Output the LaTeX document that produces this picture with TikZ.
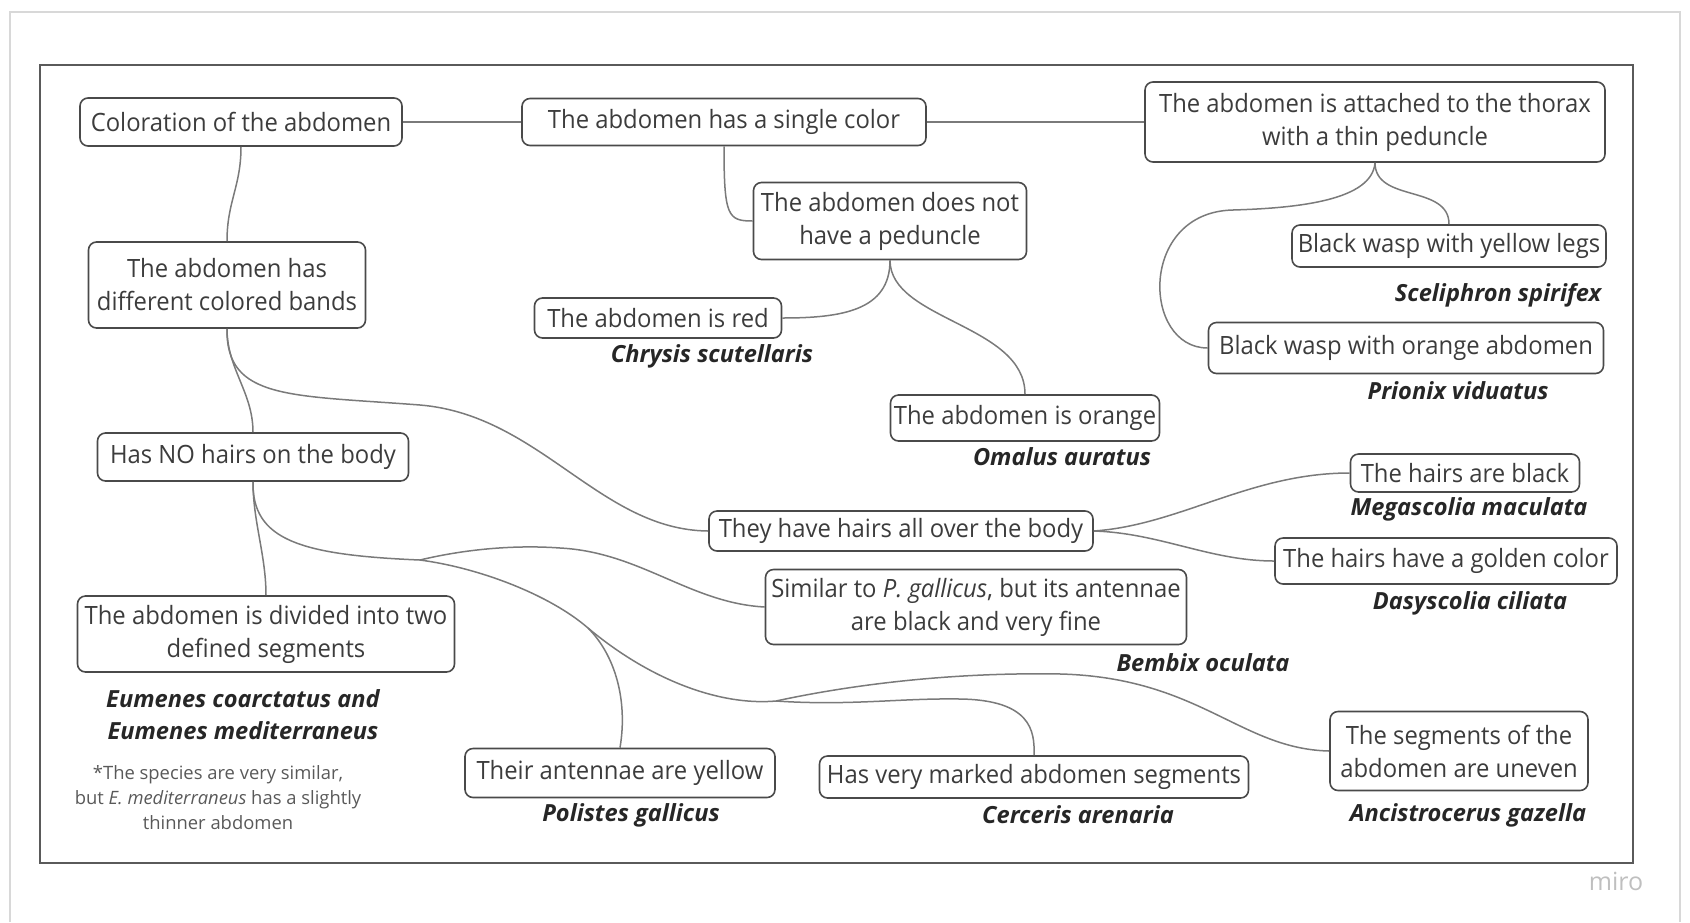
\documentclass[tikz,border=0pt]{standalone}
\usepackage{fontspec}
\setmainfont{Open Sans}
\newfontfamily\boxfont{Open Sans}[FakeStretch=0.946]
\usetikzlibrary{positioning}
\definecolor{boxgray}{HTML}{4A4A4A}
\definecolor{textgray}{HTML}{3C3C3C}
\definecolor{linegray}{HTML}{7A7A7A}
\definecolor{framegray}{HTML}{5A5A5A}
\definecolor{edgegray}{HTML}{D8D8D8}
\tikzset{
  box/.style={draw=boxgray,line width=0.8pt,rounded corners=4pt,text=textgray,align=center,inner sep=0pt,font=\boxfont\fontsize{12.6}{16.5}\selectfont},
  species/.style={text=black!85,font=\fontsize{11.8}{16}\selectfont\bfseries\itshape,inner sep=0pt,align=center},
  link/.style={draw=linegray,line width=0.75pt},
}

\begin{document}
\begin{tikzpicture}[x=0.5pt,y=-0.5pt]
    \useasboundingbox (0,0) rectangle (1690,922);
    \draw[edgegray,line width=0.6pt] (10,922) -- (10,12) -- (1680,12) -- (1680,922);
    \draw[framegray,line width=1pt] (40,65) rectangle (1633,863);

    \node[box,minimum width=161pt,minimum height=24pt] (color) at (241,122) {Coloration of the abdomen};
    \node[box,minimum width=202pt,minimum height=23.5pt] (single) at (724,122) {The abdomen has a single color};
    \node[box,minimum width=230pt,minimum height=40pt] (thorax) at (1375,122) {The abdomen is attached to the thorax\\with a thin peduncle};

    \node[box,minimum width=136.5pt,minimum height=38.5pt] (nopedun) at (890,221) {The abdomen does not\\have a peduncle};
    \node[box,minimum width=123.5pt,minimum height=20pt] (red) at (658,318) {The abdomen is red};
    \node[box,minimum width=134.5pt,minimum height=23pt] (orange) at (1025,418) {The abdomen is orange};

    \node[box,minimum width=157pt,minimum height=21pt] (legs) at (1449,246) {Black wasp with yellow legs};
    \node[box,minimum width=197.5pt,minimum height=25.5pt] (orabd) at (1406,348) {Black wasp with orange abdomen};

    \node[box,minimum width=138.5pt,minimum height=43pt] (bands) at (227,285) {The abdomen has\\different colored bands};
    \node[box,minimum width=155.5pt,minimum height=24pt] (nohairs) at (253,457) {Has NO hairs on the body};
    \node[box,minimum width=192pt,minimum height=20pt] (hairs) at (901,531) {They have hairs all over the body};
    \node[box,minimum width=114.5pt,minimum height=19pt] (black) at (1465,473) {The hairs are black};
    \node[box,minimum width=171pt,minimum height=23pt] (golden) at (1446,561) {The hairs have a golden color};

    \node[box,minimum width=210.5pt,minimum height=37.5pt] (similar) at (976,607) {Similar to \textit{P. gallicus}, but its antennae\\are black and very fine};
    \node[box,minimum width=188.5pt,minimum height=38pt] (divided) at (266,634) {The abdomen is divided into two\\defined segments};
    \node[box,minimum width=155pt,minimum height=24.5pt] (antennae) at (620,773) {Their antennae are yellow};
    \node[box,minimum width=214.5pt,minimum height=21pt] (marked) at (1034,777) {Has very marked abdomen segments};
    \node[box,minimum width=129pt,minimum height=39.5pt] (uneven) at (1459,751) {The segments of the\\abdomen are uneven};

    % species names
    \node[species] (chrysis) at (712,356) {Chrysis scutellaris};
    \node[species] (omalus) at (1062,457) {Omalus auratus};
    \node[species] (sceliphron) at (1498,295) {Sceliphron spirifex};
    \node[species] (prionix) at (1458,391) {Prionix viduatus};
    \node[species] (megascolia) at (1469,509) {Megascolia maculata};
    \node[species] (dasyscolia) at (1470,603) {Dasyscolia ciliata};
    \node[species] (bembix) at (1203,663) {Bembix oculata};
    \node[species] (eumenes) at (243,715) {Eumenes coarctatus and\\Eumenes mediterraneus};
    \node[species] (polistes) at (631,815) {Polistes gallicus};
    \node[species] (cerceris) at (1078,815) {Cerceris arenaria};
    \node[species] (ancistro) at (1468,815) {Ancistrocerus gazella};
    \node[text=black!65,align=center,inner sep=0pt,font=\fontsize{9.2}{12.5}\selectfont] (note) at (218,798) {*The species are very similar,\\but \textit{E. mediterraneus} has a slightly\\thinner abdomen};
    \node[text=black!25,inner sep=0pt,font=\fontsize{12.5}{14}\selectfont] (miro) at (1616,881) {miro};

    \coordinate (fork1) at (420,560);
    \coordinate (fork2) at (588,628);
    \coordinate (fork3) at (776,701);

    \foreach \from/\to in {color/single,single/thorax}
        \draw[link] (\from) -- (\to);

    \draw[link] (color.south) .. controls +(0,40) and +(0,-40) .. (bands.north);
    \draw[link] (single.south) .. controls +(0,70) and +(-25,0) .. (nopedun.west);
    \draw[link] (nopedun.south) .. controls +(0,50) and +(60,0) .. (red.east);
    \draw[link] (nopedun.south) .. controls +(0,60) and +(0,-70) .. (orange.north);
    \draw[link] (thorax.south) .. controls +(0,40) and +(0,-40) .. (legs.north);
    \draw[link] (thorax.south) .. controls (1372,200) and (1300,208) .. (1233,210)
        .. controls (1138,212) and (1142,348) .. (orabd.west);
    \draw[link] (bands.south) .. controls +(0,40) and +(0,-40) .. (nohairs.north);
    \draw[link] (bands.south) .. controls (226,400) and (290,395) .. (420,405)
        .. controls (540,415) and (600,530) .. (hairs.west);
    \draw[link] (nohairs.south) .. controls +(0,40) and +(0,-40) .. (divided.north);
    \draw[link] (nohairs.south) .. controls (252,540) and (300,555) .. (fork1);
    \draw[link] (fork1) .. controls (470,548) and (520,545) .. (560,548)
        .. controls (640,552) and (690,603) .. (similar.west);
    \draw[link] (fork1) .. controls (480,568) and (550,595) .. (fork2);
    \draw[link] (fork2) .. controls (615,655) and (628,700) .. (antennae.north);
    \draw[link] (fork2) .. controls (650,680) and (720,706) .. (fork3);
    \draw[link] (fork3) .. controls (850,685) and (950,672) .. (1061,674)
        .. controls (1200,678) and (1240,749) .. (uneven.west);
    \draw[link] (fork3) .. controls (850,706) and (900,698) .. (960,699)
        .. controls (1030,700) and (1035,730) .. (marked.north);
    \draw[link] (hairs.east) .. controls (1180,525) and (1250,473) .. (black.west);
    \draw[link] (hairs.east) .. controls (1160,533) and (1210,561) .. (golden.west);
\end{tikzpicture}
\end{document}
